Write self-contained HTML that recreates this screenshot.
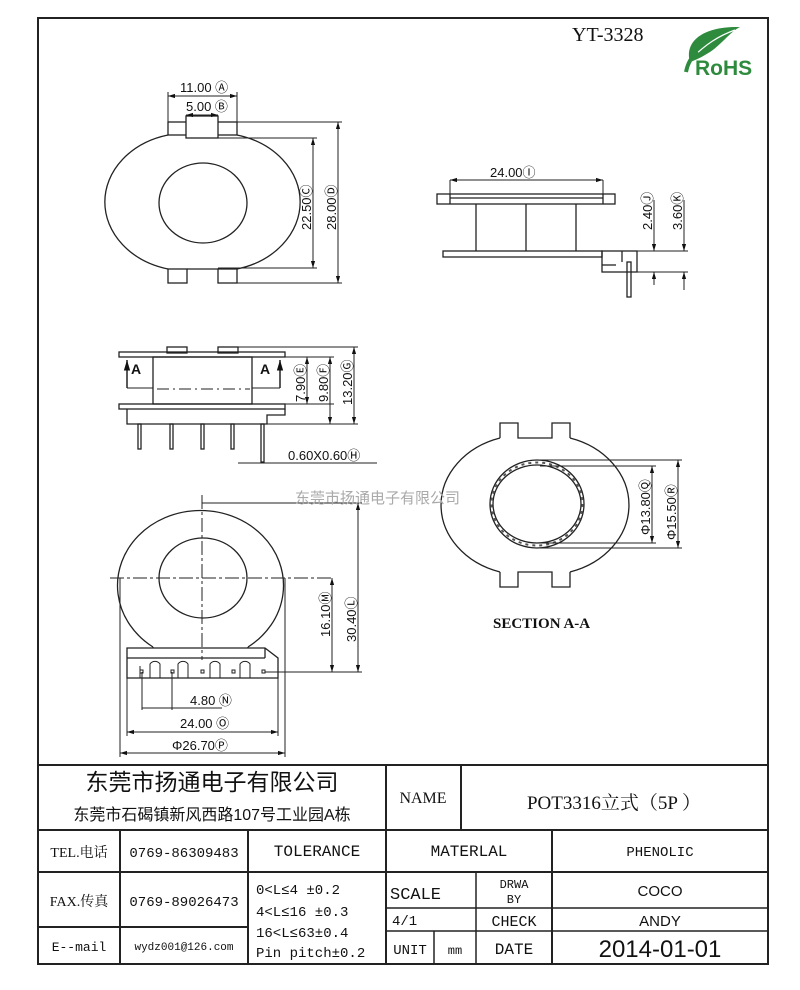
<!DOCTYPE html>
<html><head><meta charset="utf-8"><style>
body{margin:0;background:#fff}
svg{display:block}
text{font-family:"Liberation Sans","Noto Sans CJK SC",sans-serif;fill:#111}
.s{font-family:"Liberation Serif","Noto Serif CJK SC","Noto Sans CJK SC",serif}
.m{font-family:"Liberation Mono","Noto Sans CJK SC",monospace}
</style></head><body>
<svg width="800" height="990" viewBox="0 0 800 990" xmlns="http://www.w3.org/2000/svg">
<defs><marker id="a" viewBox="0 0 10 10" refX="10" refY="5" markerWidth="7" markerHeight="7" orient="auto-start-reverse"><path d="M0,2 L10,5 L0,8z" fill="#111"/></marker></defs>
<g fill="none" stroke="#222" stroke-width="1.3">
<rect x="38" y="18" width="730" height="946" stroke-width="2"/>
<line x1="38" y1="765" x2="768" y2="765" stroke-width="2"/>
<line x1="38" y1="830" x2="768" y2="830" stroke-width="2"/>
<line x1="38" y1="872" x2="768" y2="872" stroke-width="2"/>
<line x1="38" y1="927" x2="248" y2="927" stroke-width="2"/>
<line x1="386" y1="908" x2="768" y2="908" stroke-width="1.5"/>
<line x1="386" y1="931" x2="768" y2="931" stroke-width="1.5"/>
<line x1="386" y1="765" x2="386" y2="964" stroke-width="2"/>
<line x1="461" y1="765" x2="461" y2="830" stroke-width="2"/>
<line x1="120" y1="830" x2="120" y2="964" stroke-width="2"/>
<line x1="248" y1="830" x2="248" y2="964" stroke-width="2"/>
<line x1="552" y1="830" x2="552" y2="964" stroke-width="2"/>
<line x1="476" y1="872" x2="476" y2="964" stroke-width="1.5"/>
<line x1="434" y1="931" x2="434" y2="964" stroke-width="1.5"/>

<path d="M168,135 A83,69 0 0 0 168,269 M237,269 A83,69 0 0 0 237,135"/>
<line x1="187" y1="269" x2="218" y2="269"/>
<ellipse cx="203" cy="203" rx="44" ry="40"/>
<rect x="168" y="122" width="69" height="13"/>
<rect x="186" y="116" width="32" height="22" fill="#fff"/>
<rect x="168" y="269" width="19" height="14"/>
<rect x="218" y="269" width="19" height="14"/>
<line x1="168" y1="122" x2="168" y2="92" stroke-width="1"/><line x1="237" y1="122" x2="237" y2="92" stroke-width="1"/>
<line x1="168" y1="96" x2="237" y2="96" stroke-width="1" marker-start="url(#a)" marker-end="url(#a)"/>
<line x1="186" y1="115" x2="218" y2="115" stroke-width="1" marker-start="url(#a)" marker-end="url(#a)"/>
<line x1="237" y1="122" x2="342" y2="122" stroke-width="1"/>
<line x1="218" y1="138" x2="317" y2="138" stroke-width="1"/>
<line x1="218" y1="268" x2="317" y2="268" stroke-width="1"/>
<line x1="237" y1="283" x2="342" y2="283" stroke-width="1"/>
<line x1="313" y1="138" x2="313" y2="268" stroke-width="1" marker-start="url(#a)" marker-end="url(#a)"/>
<line x1="338" y1="122" x2="338" y2="283" stroke-width="1" marker-start="url(#a)" marker-end="url(#a)"/>

<rect x="437" y="194" width="178" height="10"/>
<line x1="450" y1="198" x2="603" y2="198"/>
<line x1="450" y1="194" x2="450" y2="204"/><line x1="603" y1="194" x2="603" y2="204"/>
<line x1="450" y1="180" x2="450" y2="194" stroke-width="1"/><line x1="603" y1="180" x2="603" y2="194" stroke-width="1"/>
<line x1="450" y1="180" x2="603" y2="180" stroke-width="1" marker-start="url(#a)" marker-end="url(#a)"/>
<line x1="476" y1="204" x2="476" y2="251"/><line x1="526" y1="204" x2="526" y2="251"/><line x1="576" y1="204" x2="576" y2="251"/>
<rect x="443" y="251" width="159" height="6"/>
<rect x="602" y="251" width="35" height="21"/>
<line x1="622" y1="251" x2="622" y2="262"/><line x1="602" y1="265" x2="616" y2="265"/>
<rect x="627" y="262" width="4" height="35"/>
<line x1="637" y1="251" x2="688" y2="251" stroke-width="1"/>
<line x1="637" y1="272" x2="688" y2="272" stroke-width="1"/>
<line x1="654" y1="200" x2="654" y2="251" stroke-width="1" marker-end="url(#a)"/>
<line x1="654" y1="272" x2="654" y2="285" stroke-width="1" marker-start="url(#a)"/>
<line x1="684" y1="200" x2="684" y2="251" stroke-width="1" marker-end="url(#a)"/>
<line x1="684" y1="272" x2="684" y2="290" stroke-width="1" marker-start="url(#a)"/>

<rect x="167" y="347" width="20" height="6"/><rect x="218" y="347" width="20" height="6"/>
<rect x="119" y="352" width="166" height="5"/>
<rect x="153" y="357" width="99" height="47"/>
<line x1="157" y1="389" x2="250" y2="389" stroke-width="1" stroke-dasharray="12,4,2,4"/>
<line x1="127" y1="388" x2="153" y2="388" stroke-width="1"/><line x1="127" y1="388" x2="127" y2="360" stroke-width="1.5" marker-end="url(#a)"/>
<line x1="252" y1="388" x2="280" y2="388" stroke-width="1"/><line x1="280" y1="388" x2="280" y2="360" stroke-width="1.5" marker-end="url(#a)"/>
<rect x="119" y="404" width="166" height="5"/>
<path d="M127,409 L127,424 L267,424 L267,415 L285,415 L285,409"/>
<rect x="138" y="424" width="3" height="25"/><rect x="170" y="424" width="3" height="25"/><rect x="201" y="424" width="3" height="25"/><rect x="231" y="424" width="3" height="25"/>
<rect x="261" y="424" width="3" height="38"/>
<line x1="238" y1="463" x2="377" y2="463" stroke-width="1"/>
<line x1="238" y1="347" x2="358" y2="347" stroke-width="1"/>
<line x1="285" y1="357" x2="334" y2="357" stroke-width="1"/>
<line x1="252" y1="404" x2="334" y2="404" stroke-width="1"/>
<line x1="267" y1="424" x2="358" y2="424" stroke-width="1"/>
<line x1="307" y1="357" x2="307" y2="404" stroke-width="1" marker-start="url(#a)" marker-end="url(#a)"/>
<line x1="330" y1="357" x2="330" y2="424" stroke-width="1" marker-start="url(#a)" marker-end="url(#a)"/>
<line x1="354" y1="347" x2="354" y2="424" stroke-width="1" marker-start="url(#a)" marker-end="url(#a)"/>

<path d="M153,647 A83,75 0 1 1 248,647"/>
<line x1="153" y1="647" x2="153" y2="648"/><line x1="248" y1="647" x2="248" y2="648"/>
<ellipse cx="203" cy="578" rx="44" ry="40"/>
<line x1="202" y1="495" x2="202" y2="660" stroke-width="1" stroke-dasharray="14,3,3,3"/>
<line x1="110" y1="578" x2="332" y2="578" stroke-width="1" stroke-dasharray="14,3,3,3"/>
<path d="M127,648 L265,648 L278,658 L278,678 L127,678 Z"/>
<line x1="127" y1="658" x2="265" y2="658"/><line x1="265" y1="648" x2="265" y2="658"/>
<path d="M127,678 L127,658 M140,678 l0,-12 M150,678 l0,-14 a6,6 0 0 1 10,0 l0,14 M178,678 l0,-14 a6,6 0 0 1 10,0 l0,14 M210,678 l0,-14 a6,6 0 0 1 10,0 l0,14 M240,678 l0,-14 a6,6 0 0 1 10,0 l0,14" stroke-width="1"/>
<rect x="140" y="670" width="3" height="3" stroke-width="1"/><rect x="171" y="670" width="3" height="3" stroke-width="1"/><rect x="201" y="670" width="3" height="3" stroke-width="1"/><rect x="232" y="670" width="3" height="3" stroke-width="1"/><rect x="262" y="670" width="3" height="3" stroke-width="1"/>
<line x1="202" y1="503" x2="362" y2="503" stroke-width="1"/>
<line x1="265" y1="672" x2="362" y2="672" stroke-width="1"/>
<line x1="332" y1="578" x2="332" y2="672" stroke-width="1" marker-start="url(#a)" marker-end="url(#a)"/>
<line x1="358" y1="503" x2="358" y2="672" stroke-width="1" marker-start="url(#a)" marker-end="url(#a)"/>
<line x1="142" y1="672" x2="142" y2="710" stroke-width="1"/><line x1="172" y1="672" x2="172" y2="710" stroke-width="1"/>
<line x1="142" y1="708" x2="222" y2="708" stroke-width="1"/>
<line x1="127" y1="678" x2="127" y2="736" stroke-width="1"/><line x1="278" y1="678" x2="278" y2="736" stroke-width="1"/>
<line x1="127" y1="732" x2="278" y2="732" stroke-width="1" marker-start="url(#a)" marker-end="url(#a)"/>
<line x1="120" y1="578" x2="120" y2="757" stroke-width="1"/><line x1="285" y1="578" x2="285" y2="757" stroke-width="1"/>
<line x1="120" y1="753" x2="285" y2="753" stroke-width="1" marker-start="url(#a)" marker-end="url(#a)"/>

<path d="M500,438 A83,70 0 0 0 500,572 M570,572 A83,70 0 0 0 570,438"/>
<path d="M500,438 L500,423 L518,423 L518,438 L552,438 L552,423 L570,423 L570,438"/>
<path d="M500,572 L500,587 L518,587 L518,572 L552,572 L552,587 L570,587 L570,572"/>
<ellipse cx="537" cy="504" rx="47" ry="44"/>
<ellipse cx="537" cy="504" rx="44" ry="39"/>
<ellipse cx="537" cy="504" rx="45.5" ry="41.5" stroke-width="2" stroke-dasharray="3,4" stroke="#555"/>
<line x1="540" y1="460" x2="682" y2="460" stroke-width="1"/>
<line x1="540" y1="548" x2="682" y2="548" stroke-width="1"/>
<line x1="540" y1="466" x2="656" y2="466" stroke-width="1"/>
<line x1="540" y1="543" x2="656" y2="543" stroke-width="1"/>
<line x1="652" y1="466" x2="652" y2="543" stroke-width="1" marker-start="url(#a)" marker-end="url(#a)"/>
<line x1="678" y1="460" x2="678" y2="548" stroke-width="1" marker-start="url(#a)" marker-end="url(#a)"/>
</g>

<g font-size="13">
<text x="180" y="92">11.00 Ⓐ</text>
<text x="186" y="111">5.00 Ⓑ</text>
<text transform="translate(311,230) rotate(-90)">22.50Ⓒ</text>
<text transform="translate(336,230) rotate(-90)">28.00Ⓓ</text>
<text x="490" y="177">24.00Ⓘ</text>
<text transform="translate(652,230) rotate(-90)">2.40Ⓙ</text>
<text transform="translate(682,230) rotate(-90)">3.60Ⓚ</text>
<text transform="translate(305,402) rotate(-90)">7.90Ⓔ</text>
<text transform="translate(328,402) rotate(-90)">9.80Ⓕ</text>
<text transform="translate(352,405) rotate(-90)">13.20Ⓖ</text>
<text x="288" y="460">0.60X0.60Ⓗ</text>
<text transform="translate(330,637) rotate(-90)">16.10Ⓜ</text>
<text transform="translate(356,642) rotate(-90)">30.40Ⓛ</text>
<text x="190" y="705">4.80 Ⓝ</text>
<text x="180" y="728">24.00 Ⓞ</text>
<text x="172" y="750">Φ26.70Ⓟ</text>
<text transform="translate(650,535) rotate(-90)">Φ13.80Ⓠ</text>
<text transform="translate(676,540) rotate(-90)">Φ15.50Ⓡ</text>
</g>
<text x="131" y="374" font-size="14" font-weight="bold">A</text>
<text x="260" y="374" font-size="14" font-weight="bold">A</text>
<text x="493" y="628" font-size="15" font-weight="bold" class="s">SECTION A-A</text>
<text x="295" y="503" font-size="15" style="fill:#aaa">东莞市扬通电子有限公司</text>

<text x="572" y="41" font-size="20" class="s">YT-3328</text>
<path d="M690,62 C684,40 705,26 740,27 C730,32 722,44 710,52 C702,57 696,60 690,62 Z" fill="#2e8b3e"/>
<path d="M692,58 C705,45 718,36 735,30" stroke="#fff" stroke-width="1.2" fill="none"/>
<path d="M686,72 C688,62 692,56 698,52" stroke="#2e8b3e" stroke-width="4" fill="none"/>
<text x="695" y="75" font-size="21" font-weight="bold" style="fill:#2e8b3e">RoHS</text>

<text x="212" y="790" font-size="23" text-anchor="middle">东莞市扬通电子有限公司</text>
<text x="212" y="820" font-size="16" text-anchor="middle">东莞市石碣镇新风西路107号工业园A栋</text>
<text x="423" y="803" font-size="16" text-anchor="middle" class="s">NAME</text>
<text x="614" y="809" font-size="19" text-anchor="middle" class="s">POT3316立式（5P ）</text>
<text x="79" y="857" font-size="14" text-anchor="middle" class="s">TEL.电话</text>
<text x="184" y="857" font-size="14" text-anchor="middle" class="m">0769-86309483</text>
<text x="317" y="856" font-size="16" text-anchor="middle" class="m">TOLERANCE</text>
<text x="469" y="856" font-size="16" text-anchor="middle" class="m">MATERLAL</text>
<text x="660" y="856" font-size="14" text-anchor="middle" class="m">PHENOLIC</text>
<text x="79" y="906" font-size="14" text-anchor="middle" class="s">FAX.传真</text>
<text x="184" y="906" font-size="14" text-anchor="middle" class="m">0769-89026473</text>
<text x="79" y="951" font-size="13" text-anchor="middle" class="m">E--mail</text>
<text x="184" y="950" font-size="11" text-anchor="middle" class="m">wydz001@126.com</text>
<g font-size="14">
<text x="256" y="894" class="m">0&lt;L≤4  ±0.2</text>
<text x="256" y="916" class="m">4&lt;L≤16 ±0.3</text>
<text x="256" y="937" class="m">16&lt;L≤63±0.4</text>
<text x="256" y="957" class="m">Pin pitch±0.2</text>
</g>
<text x="390" y="899" font-size="17" class="m">SCALE</text>
<text x="514" y="888" font-size="12" text-anchor="middle" class="m">DRWA</text>
<text x="514" y="903" font-size="12" text-anchor="middle" class="m">BY</text>
<text x="660" y="896" font-size="15" text-anchor="middle">COCO</text>
<text x="392" y="925" font-size="14" class="m">4/1</text>
<text x="514" y="926" font-size="15" text-anchor="middle" class="m">CHECK</text>
<text x="660" y="926" font-size="15" text-anchor="middle">ANDY</text>
<text x="410" y="954" font-size="14" text-anchor="middle" class="m">UNIT</text>
<text x="455" y="954" font-size="12" text-anchor="middle" class="m">mm</text>
<text x="514" y="954" font-size="16" text-anchor="middle" class="m">DATE</text>
<text x="660" y="957" font-size="24" text-anchor="middle">2014-01-01</text>
</svg>
</body></html>
